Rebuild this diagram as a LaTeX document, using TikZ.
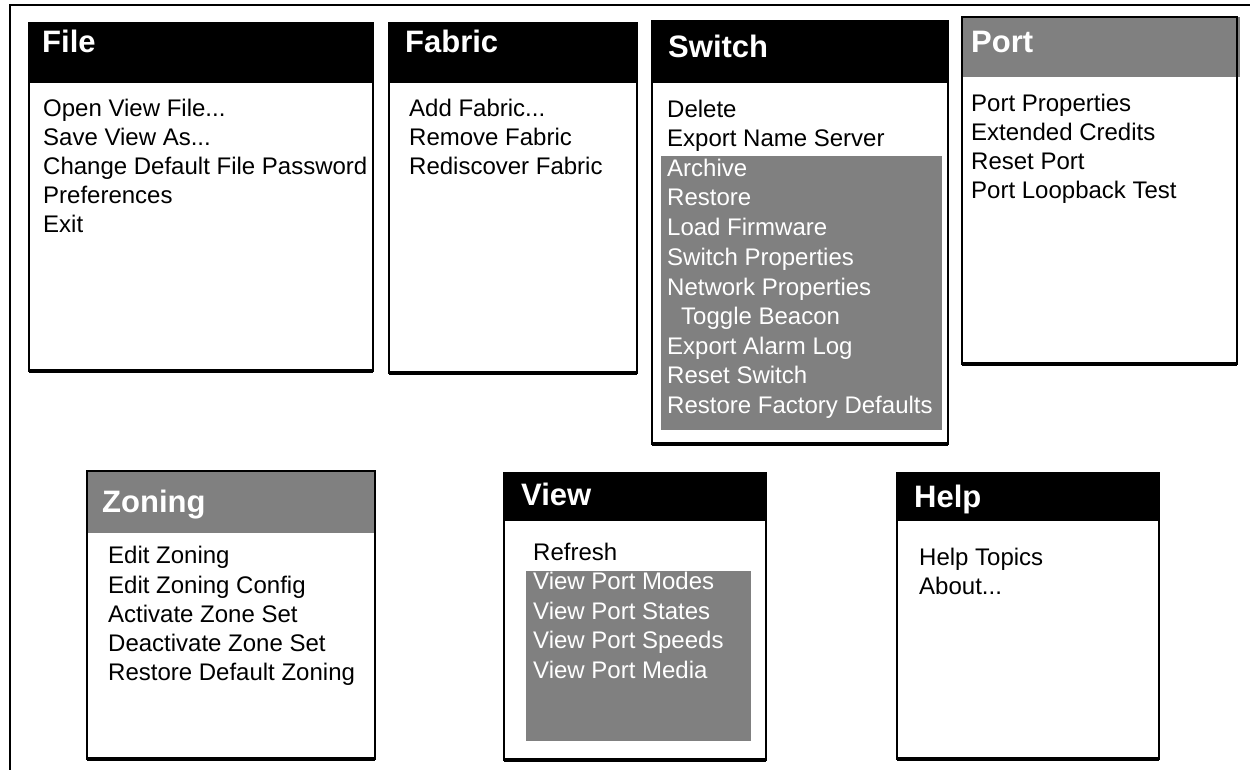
\documentclass[tikz,border=0pt]{standalone}
\usepackage{fontspec}
\setmainfont{Liberation Sans}
\definecolor{menugray}{HTML}{808080}
\begin{document}
\begin{tikzpicture}[x=1pt,y=-1pt,
  frame/.style={line width=2pt},
  boxfill/.style={fill=white},
  boxline/.style={draw=black,line width=2.5pt},
  boxbottom/.style={draw=black,line width=4pt},
  hdrblack/.style={fill=black},
  hdrgray/.style={fill=menugray},
  title/.style={anchor=base west,inner sep=0pt,text=white,font=\fontsize{31}{36}\selectfont\bfseries},
  item/.style={anchor=base west,inner sep=0pt,text=black,font=\fontsize{24}{28}\selectfont},
  hl/.style={text=white}]
\useasboundingbox (0,0) rectangle (1250,770);
% outer frame
\draw[frame] (10,770) -- (10,5) -- (1250,5);

% ---------- File ----------
\fill[boxfill] (29,23) rectangle (373,371);
\fill[hdrblack] (29,23) rectangle (373,83);
\draw[boxline] (29,23) rectangle (373,371);
\draw[boxbottom] (29,371) -- (373,371);
\node[title] (tFile) at (42,53) {File};
\node[item] (f1) at (43,117) {Open View File...};
\node[item] (f2) at (43,146) {Save View As...};
\node[item] (f3) at (43,175) {Change Default File Password};
\node[item] (f4) at (43,204) {Preferences};
\node[item] (f5) at (43,233) {Exit};

% ---------- Fabric ----------
\fill[boxfill] (389,23) rectangle (637,373);
\fill[hdrblack] (389,23) rectangle (637,83);
\draw[boxline] (389,23) rectangle (637,373);
\draw[boxbottom] (389,373) -- (637,373);
\node[title] (tFabric) at (405,53) {Fabric};
\node[item] (b1) at (409,117) {Add Fabric...};
\node[item] (b2) at (409,146) {Remove Fabric};
\node[item] (b3) at (409,175) {Rediscover Fabric};

% ---------- Switch ----------
\fill[boxfill] (652,21) rectangle (948,444);
\fill[hdrblack] (652,21) rectangle (948,83);
\fill[menugray] (661,156) rectangle (942,430);
\draw[boxline] (652,21) rectangle (948,444);
\draw[boxbottom] (652,444) -- (948,444);
\node[title] (tSwitch) at (668,58) {Switch};
\node[item] (s1) at (667,118) {Delete};
\node[item] (s2) at (667,147) {Export Name Server};
\node[item,hl] (s3) at (667,177) {Archive};
\node[item,hl] (s4) at (667,206) {Restore};
\node[item,hl] (s5) at (667,236) {Load Firmware};
\node[item,hl] (s6) at (667,265) {Switch Properties};
\node[item,hl] (s7) at (667,295) {Network Properties};
\node[item,hl] (s8) at (681,324) {Toggle Beacon};
\node[item,hl] (s9) at (667,354) {Export Alarm Log};
\node[item,hl] (s10) at (667,383) {Reset Switch};
\node[item,hl] (s11) at (667,413) {Restore Factory Defaults};

% ---------- Port ----------
\fill[boxfill] (962,17) rectangle (1237,364);
\fill[hdrgray] (962,17) rectangle (1240,77);
\draw[boxline] (962,17) rectangle (1237,364);
\draw[boxbottom] (962,364) -- (1237,364);
\node[title] (tPort) at (971,53) {Port};
\node[item] (p1) at (971,112) {Port Properties};
\node[item] (p2) at (971,141) {Extended Credits};
\node[item] (p3) at (971,170) {Reset Port};
\node[item] (p4) at (971,199) {Port Loopback Test};

% ---------- Zoning ----------
\fill[boxfill] (87,471) rectangle (375,759);
\fill[hdrgray] (87,471) rectangle (375,533);
\draw[boxline] (87,471) rectangle (375,759);
\draw[boxbottom] (87,759) -- (375,759);
\node[title] (tZoning) at (102,512) {Zoning};
\node[item] (z1) at (108,563) {Edit Zoning};
\node[item] (z2) at (108,593) {Edit Zoning Config};
\node[item] (z3) at (108,622) {Activate Zone Set};
\node[item] (z4) at (108,651) {Deactivate Zone Set};
\node[item] (z5) at (108,680) {Restore Default Zoning};

% ---------- View ----------
\fill[boxfill] (504,473) rectangle (766,760);
\fill[hdrblack] (504,473) rectangle (766,521);
\fill[menugray] (526,571) rectangle (751,741);
\draw[boxline] (504,473) rectangle (766,760);
\draw[boxbottom] (504,760) -- (766,760);
\node[title] (tView) at (521,505) {View};
\node[item] (v1) at (533,560) {Refresh};
\node[item,hl] (v2) at (533,589) {View Port Modes};
\node[item,hl] (v3) at (533,619) {View Port States};
\node[item,hl] (v4) at (533,648) {View Port Speeds};
\node[item,hl] (v5) at (533,678) {View Port Media};

% ---------- Help ----------
\fill[boxfill] (897,473) rectangle (1159,759);
\fill[hdrblack] (897,473) rectangle (1159,521);
\draw[boxline] (897,473) rectangle (1159,759);
\draw[boxbottom] (897,759) -- (1159,759);
\node[title] (tHelp) at (914,507) {Help};
\node[item] (h1) at (919,565) {Help Topics};
\node[item] (h2) at (919,594) {About...};
\end{tikzpicture}
\end{document}
